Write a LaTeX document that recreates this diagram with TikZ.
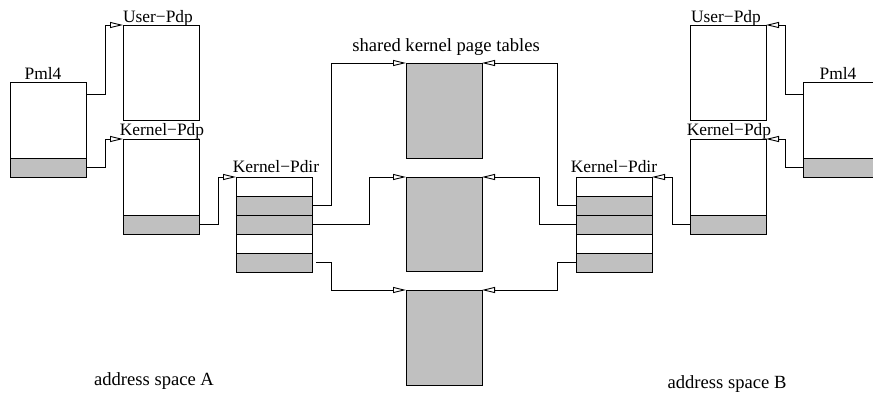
\documentclass[tikz,border=0pt]{standalone}
\usepackage{fontspec}
\setmainfont{Liberation Serif}
\usetikzlibrary{arrows.meta,calc}
\definecolor{entrygray}{HTML}{C0C0C0}

\begin{document}
\begin{tikzpicture}[x=1pt,y=-1pt,
  cell/.style={draw=black, line width=0.9pt, inner sep=0pt, outer sep=0pt,
    minimum width=76pt, anchor=north west},
  entry/.style={cell, fill=entrygray, minimum height=19pt},
  blank/.style={cell, fill=white, minimum height=19pt},
  conn/.style={draw=black, line width=0.9pt,
    -{Triangle[open, length=13pt, width=6pt]}},
  boxlabel/.style={anchor=base, inner sep=0pt, font=\fontsize{17.4}{19}\selectfont},
  caption/.style={anchor=base, inner sep=0pt, font=\fontsize{18.6}{21}\selectfont}
]
\useasboundingbox (0,0) rectangle (873,394);

% ---- address space A ----
\node[cell, minimum height=76pt] (pmlA) at (10,82) {};
\node[entry] (pmlAk) at (10,158) {};
\node[cell, minimum height=95pt] (userA) at (123,25) {};
\node[cell, minimum height=76pt] (kpdpA) at (123,139) {};
\node[entry] (kpdpAk) at (123,215) {};
\node[blank] (kdirA1) at (236,177) {};
\node[entry] (kdirA2) at (236,196) {};
\node[entry] (kdirA3) at (236,215) {};
\node[blank] (kdirA4) at (236,234) {};
\node[entry] (kdirA5) at (236,253) {};

\node[boxlabel] (lpmlA) at (43,79) {Pml4};
\node[boxlabel] (luserA) at (158,22) {User−Pdp};
\node[boxlabel] (lkpdpA) at (162,135) {Kernel−Pdp};
\node[boxlabel] (lkdirA) at (276,172) {Kernel−Pdir};
\node[caption] (capA) at (154,385) {address space A};

% ---- shared kernel page tables ----
\node[cell, fill=entrygray, minimum height=95pt] (sh1) at (406,63) {};
\node[cell, fill=entrygray, minimum height=94pt] (sh2) at (406,177) {};
\node[cell, fill=entrygray, minimum height=95pt] (sh3) at (406,290) {};
\node[caption] (lshared) at (446,51) {shared kernel page tables};

% ---- address space B ----
\node[cell, minimum height=76pt] (pmlB) at (803,82) {};
\node[entry] (pmlBk) at (803,158) {};
\node[cell, minimum height=95pt] (userB) at (690,25) {};
\node[cell, minimum height=76pt] (kpdpB) at (690,139) {};
\node[entry] (kpdpBk) at (690,215) {};
\node[blank] (kdirB1) at (576,177) {};
\node[entry] (kdirB2) at (576,196) {};
\node[entry] (kdirB3) at (576,215) {};
\node[blank] (kdirB4) at (576,234) {};
\node[entry] (kdirB5) at (576,253) {};

\node[boxlabel] (lpmlB) at (838,79) {Pml4};
\node[boxlabel] (luserB) at (726,22) {User−Pdp};
\node[boxlabel] (lkpdpB) at (729,135) {Kernel−Pdp};
\node[boxlabel] (lkdirB) at (614,172) {Kernel−Pdir};
\node[caption] (capB) at (727,388) {address space B};

% ---- pointers in A ----
\draw[conn] ($(pmlA.north east)+(0,12)$) -- ++(19,0) |- (userA.north west);
\draw[conn] (pmlAk.east) -- ++(19,0) |- (kpdpA.north west);
\draw[conn] (kpdpAk.east) -- ++(19,0) |- (kdirA1.north west);
\draw[conn] (kdirA2.east) -- ++(19,0) |- (sh1.north west);
\draw[conn] (kdirA3.east) -- ++(57,0) |- (sh2.north west);
\draw[conn] ($(kdirA5.east)+(4,0)$) -- ++(15,0) |- (sh3.north west);

% ---- pointers in B ----
\draw[conn] ($(pmlB.north west)+(0,12)$) -- ++(-18,0) |- (userB.north east);
\draw[conn] (pmlBk.west) -- ++(-18,0) |- (kpdpB.north east);
\draw[conn] (kpdpBk.west) -- ++(-18,0) |- (kdirB1.north east);
\draw[conn] (kdirB2.west) -- ++(-19,0) |- (sh1.north east);
\draw[conn] (kdirB3.west) -- ++(-37,0) |- (sh2.north east);
\draw[conn] (kdirB5.west) -- ++(-19,0) |- (sh3.north east);
\end{tikzpicture}
\end{document}
